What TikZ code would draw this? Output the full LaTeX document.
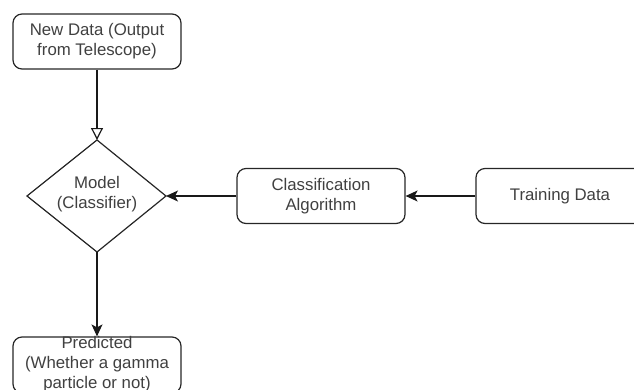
\documentclass[tikz,border=0pt]{standalone}
\usepackage{fontspec}
\setmainfont{Liberation Sans}
\usetikzlibrary{arrows.meta}
\begin{document}
\begin{tikzpicture}[x=1pt,y=-1pt,
  txt/.style={align=center,font=\fontsize{16.8pt}{20pt}\selectfont,text=black!75,inner sep=0pt},
  rbox/.style={draw=black!85,line width=1.2pt,rounded corners=9pt,minimum width=168pt,minimum height=55pt,txt},
  conn/.style={draw=black!90,line width=1.2pt,-{Stealth[length=12pt,width=11pt,inset=3pt]}},
  openconn/.style={draw=black!90,line width=1.2pt,-{Triangle[open,length=12pt,width=12pt,fill=white]}}
]
\useasboundingbox (0,0) rectangle (634,389);
\begin{scope}
\clip (0,0) rectangle (634,389);
\node[rbox] (new) at (97,41.5) {New Data (Output\\from Telescope)};
\path[draw=black!85,line width=1.2pt,fill=white] (27,196) -- (97,140) -- (166,196) -- (97,252) -- cycle;
\node[txt] (modeltxt) at (97,194) {Model\\(Classifier)};
\coordinate (mtop) at (97,140);
\coordinate (mright) at (166,196);
\coordinate (mbot) at (97,252);
\node[rbox] (alg) at (321,196) {Classification\\Algorithm};
\node[rbox] (train) at (560,196) {Training Data};
\node[rbox,minimum height=56pt] (pred) at (97,365) {};
\node[txt] (predtxt) at (97,364.5) {Predicted\\(Whether a gamma\\particle or not)};
\draw[openconn] (new.south) -- (mtop);
\draw[conn] (train.west) -- (alg.east);
\draw[conn] (alg.west) -- (mright);
\draw[conn] (mbot) -- (pred.north);
\end{scope}
\end{tikzpicture}
\end{document}
